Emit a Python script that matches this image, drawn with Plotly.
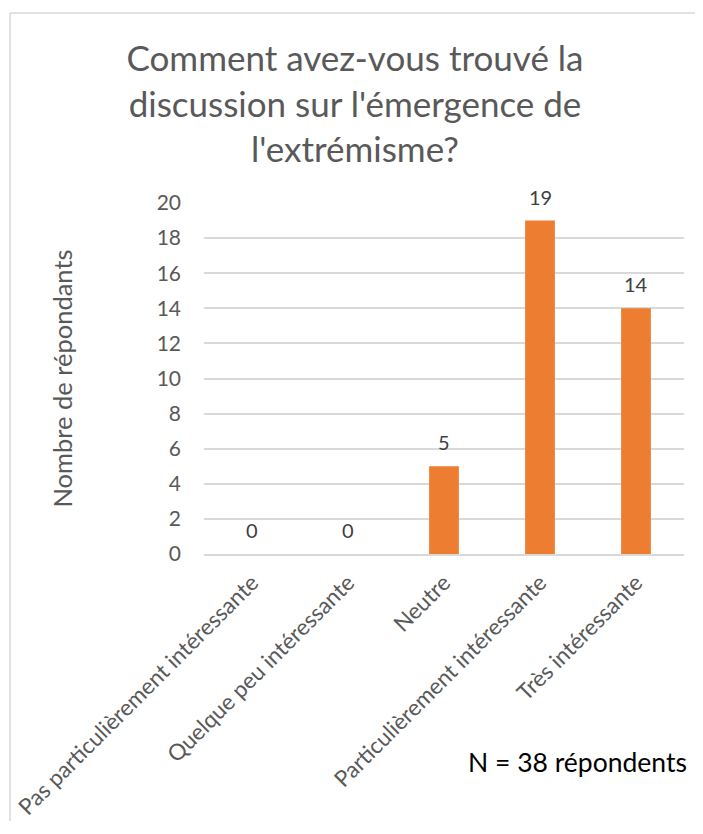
import plotly.graph_objects as go

# Données du graphique
categories = [
    "Pas particulièrement intéressante",
    "Quelque peu intéressante",
    "Neutre",
    "Particulièrement intéressante",
    "Très intéressante",
]
repondants = [0, 0, 5, 19, 14]
y_ticks = [0, 2, 4, 6, 8, 10, 12, 14, 16, 18, 20]

# la page ajoute une marge de 8 px autour de la figure :
# on la garde dans la fenêtre pour éviter les barres de défilement
W, H = 695, 813
L, R, T, B = 196, 19, 195, 267
FONT = "Lato"
GRIS = "#595959"
CADRE = "#D9D9D9"
pw, ph = W - L - R, H - T - B


def px_x(px):
    return (px - L) / pw


def px_y(py):
    return (H - B - py) / ph


fig = go.Figure()
fig.add_trace(go.Bar(
    x=categories,
    y=repondants,
    marker=dict(color="#ED7D31", line=dict(width=0)),
    width=0.31,
    showlegend=False,
    hoverinfo="x+y",
))

# Étiquettes de données au-dessus des barres
for cat, val in zip(categories, repondants):
    fig.add_annotation(
        x=cat, y=val, text=str(val), showarrow=False,
        yanchor="middle", yshift=24,
        font=dict(family=FONT, size=20, color="#404040"),
    )

fig.add_annotation(
    text="N = 38 répondents", xref="paper", yref="paper",
    x=px_x(681), y=px_y(754), xanchor="right", yanchor="middle",
    showarrow=False, font=dict(family=FONT, size=26.5, color="black"),
)

# Cadre du graphique : seuls les bords haut et gauche sont visibles
fig.add_shape(type="line", xref="paper", yref="paper",
              x0=px_x(2), x1=px_x(W), y0=px_y(5), y1=px_y(5),
              line=dict(color=CADRE, width=1.5), layer="below")
fig.add_shape(type="line", xref="paper", yref="paper",
              x0=px_x(2), x1=px_x(2), y0=px_y(5), y1=px_y(H),
              line=dict(color=CADRE, width=1.5), layer="below")

fig.update_layout(
    width=W, height=H,
    margin=dict(l=L, r=R, t=T, b=B, autoexpand=False),
    paper_bgcolor="white", plot_bgcolor="white",
    title=dict(
        text="Comment avez-vous trouvé la<br>discussion sur l'émergence de<br>l'extrémisme?",
        x=347 / W, xanchor="center", y=1 - 63 / H, yanchor="middle",
        font=dict(family=FONT, size=35, color=GRIS),
    ),
    font=dict(family=FONT, color=GRIS),
    bargap=0.69,
)
fig.update_xaxes(
    tickangle=-45, tickfont=dict(size=22.5, color=GRIS),
    showline=True, linecolor=CADRE, linewidth=1.5,
    ticks="", showgrid=False, ticklabelstandoff=5, automargin=False,
)
fig.update_yaxes(
    range=[0, 20], tickvals=y_ticks, tickfont=dict(size=21, color=GRIS),
    showgrid=True, gridcolor=CADRE, gridwidth=1.5,
    zeroline=False, ticks="", ticklabelstandoff=22, automargin=False,
    title=dict(text="Nombre de répondants", font=dict(size=25.5, color=GRIS), standoff=76),
)

fig.write_html("out.html")
